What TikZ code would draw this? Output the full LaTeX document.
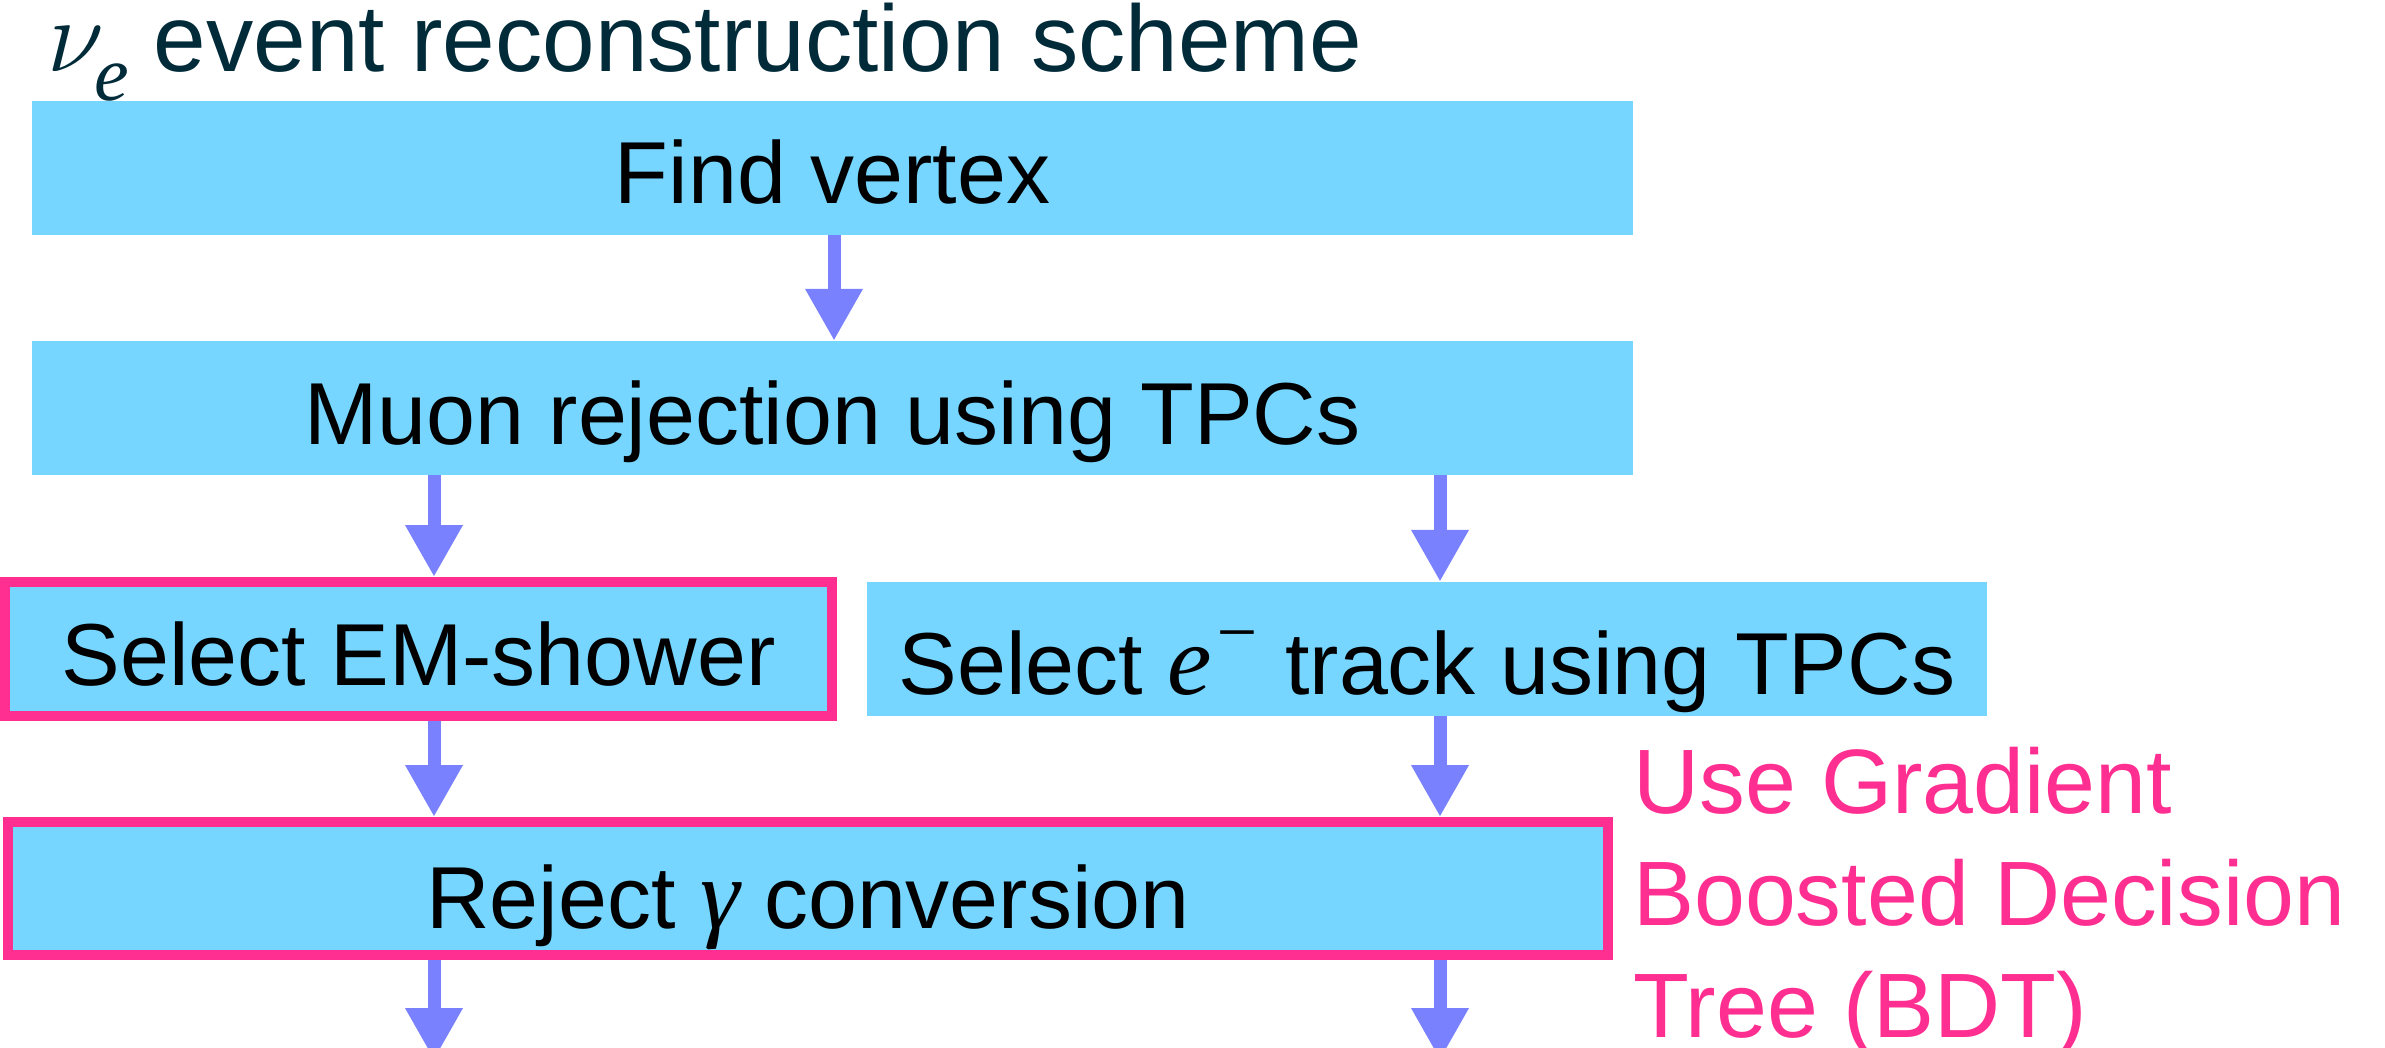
\RequirePackage{fix-cm}
\documentclass[tikz,border=0pt]{standalone}
\usepackage{fontspec}
\setmainfont{Liberation Sans}
\newfontfamily\mathserif{Liberation Serif}
\usetikzlibrary{arrows.meta}
\definecolor{sky}{HTML}{76D6FF}
\definecolor{strawberry}{HTML}{FF2F92}
\definecolor{orchid}{HTML}{7A81FF}
\definecolor{titlecol}{HTML}{022B3A}
\newcommand{\mvar}[2]{{\fontsize{#1}{#1}\selectfont\mathserif\itshape #2}}
\newcommand{\mgreek}[2]{{\fontsize{#1}{#1}\selectfont$#2$}}
\begin{document}
\begin{tikzpicture}[x=1pt,y=-1pt,
  box/.style={fill=sky, inner sep=0pt, minimum height=134pt, text height=84pt, text depth=12pt,
              font=\fontsize{88}{106}\selectfont, anchor=center},
  pinkbox/.style={box, draw=strawberry, line width=10pt},
  flow/.style={draw=orchid, line width=13pt, -{Triangle[length=52pt,width=54pt]}},
  pinktext/.style={anchor=base west, inner sep=0pt, text=strawberry, font=\fontsize{91.5}{112}\selectfont}]
\useasboundingbox (0,0) rectangle (2385,1048);
\fill[white] (0,0) rectangle (2385,1048);

\node[anchor=base west, inner sep=0pt, text=titlecol, font=\fontsize{94.5}{100}\selectfont] (title) at (47,72)
  {\mgreek{104}{\nu}\hspace{-10pt}\raisebox{-29pt}{\mvar{78}{e}}\hspace{-1pt} event reconstruction scheme};

\node[box, minimum width=1601pt] (find) at (832.5,168) {Find vertex};
\node[box, minimum width=1601pt] (muon) at (832.5,408) {Muon rejection using TPCs};
\node[pinkbox, minimum width=827pt] (em) at (418.5,649) {Select EM-shower};
\node[box, minimum width=1120pt, text height=90pt, text depth=0pt] (elec) at (1427,649)
  {Select \mvar{100}{e}\raisebox{38pt}{\mvar{72}{−}} track using TPCs};
\node[pinkbox, minimum width=1600pt, minimum height=133pt, text height=86pt, text depth=7pt] (gamma) at (808,888.5)
  {Reject \mvar{100}{γ} conversion};

\node[pinktext] (bdt1) at (1633,813) {Use Gradient};
\node[pinktext] (bdt2) at (1633,925) {Boosted Decision};
\node[pinktext] (bdt3) at (1633,1037) {Tree (BDT)};

\coordinate (cA) at (834,0);
\coordinate (cL) at (434,0);
\coordinate (cR) at (1440,0);
\coordinate (endL) at (434,1060);
\coordinate (endR) at (1440,1060);

\draw[flow] (find.south -| cA) -- (muon.north -| cA);
\draw[flow] (muon.south -| cL) -- (em.north -| cL);
\draw[flow] (muon.south -| cR) -- (elec.north -| cR);
\draw[flow] (em.south -| cL) -- (gamma.north -| cL);
\draw[flow] (elec.south -| cR) -- (gamma.north -| cR);
\draw[flow] (gamma.south -| cL) -- (endL);
\draw[flow] (gamma.south -| cR) -- (endR);
\end{tikzpicture}
\end{document}
